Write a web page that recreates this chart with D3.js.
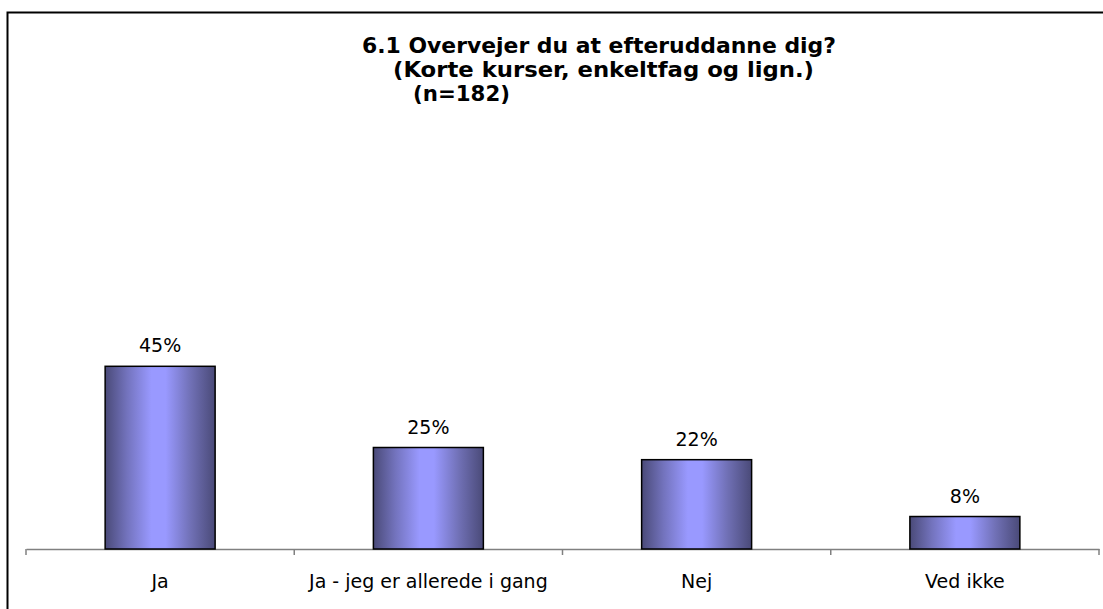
<!DOCTYPE html>
<html><head><meta charset="utf-8">
<script src="https://cdn.jsdelivr.net/npm/d3@7"></script>
<style>body{margin:0;background:#fff}svg{display:block}</style>
</head><body>
<svg id="c" width="1103" height="609"></svg>
<script>
const categories = ["Ja", "Ja - jeg er allerede i gang", "Nej", "Ved ikke"];
const values = [0.45, 0.25, 0.22, 0.08];
const valueLabels = ["45%", "25%", "22%", "8%"];
const titleLines = ["6.1 Overvejer du at efteruddanne dig?", "(Korte kurser, enkeltfag og lign.)", "(n=182)"];

const svg = d3.select("#c");
const font = "'DejaVu Sans', Verdana, sans-serif";

// outer border (open to the right/bottom as in the reference)
svg.append("rect").attr("x", 7.5).attr("y", 12.5).attr("width", 1200).attr("height", 700)
  .attr("fill", "none").attr("stroke", "#000").attr("stroke-width", 2);

const x = d3.scaleBand().domain(categories).range([26, 1099]).paddingInner(0.59).paddingOuter(0.295);
const xAxisScale = d3.scaleBand().domain(categories).range([26, 1099]);
const y = d3.scaleLinear().domain([0, 0.5]).range([549, 346]);

const defs = svg.append("defs");
const g = defs.append("linearGradient").attr("id", "bg").attr("x1", "0").attr("x2", "1").attr("y1", "0").attr("y2", "0");
[[0, "#4a4a78"], [0.2, "#7373bd"], [0.42, "#9999ff"], [0.55, "#9999ff"], [0.78, "#7070b5"], [1, "#4a4a78"]]
  .forEach(([o, c]) => g.append("stop").attr("offset", o).attr("stop-color", c));

// axis
const axis = d3.axisBottom(xAxisScale).tickSize(0).tickFormat(d => d).tickPadding(0);
const ax = svg.append("g").attr("transform", "translate(0,549)").call(axis);
ax.select(".domain").attr("stroke", "#808080").attr("stroke-width", 1.5);
ax.selectAll(".tick text").attr("font-family", font).attr("font-size", 19).attr("fill", "#000").attr("dy", null).attr("y", 39);
// boundary ticks
const bounds = categories.map(c => xAxisScale(c)).concat([xAxisScale.range()[1]]);
svg.append("g").selectAll("line").data(bounds).join("line")
  .attr("x1", d => d).attr("x2", d => d).attr("y1", 549).attr("y2", 555)
  .attr("stroke", "#808080").attr("stroke-width", 1.5);

// bars
svg.append("g").selectAll("rect").data(values).join("rect")
  .attr("x", (d, i) => x(categories[i])).attr("width", x.bandwidth())
  .attr("y", d => y(d)).attr("height", d => y(0) - y(d))
  .attr("fill", "url(#bg)").attr("stroke", "#000").attr("stroke-width", 1.5);

svg.append("g").selectAll("text").data(values).join("text")
  .attr("x", (d, i) => x(categories[i]) + x.bandwidth() / 2).attr("y", d => y(d) - 14)
  .attr("text-anchor", "middle").attr("font-family", font).attr("font-size", 19).attr("fill", "#000")
  .text((d, i) => valueLabels[i]);

// title
const tx = [362, 393, 413], ty = [53, 77, 101], tw = [474, 421, 97];
svg.append("g").selectAll("text").data(titleLines).join("text")
  .attr("x", (d, i) => tx[i]).attr("y", (d, i) => ty[i])
  .attr("textLength", (d, i) => tw[i]).attr("lengthAdjust", "spacingAndGlyphs")
  .attr("font-family", font).attr("font-weight", "bold").attr("font-size", 20.5).attr("fill", "#000")
  .text(d => d);
</script>
</body></html>
